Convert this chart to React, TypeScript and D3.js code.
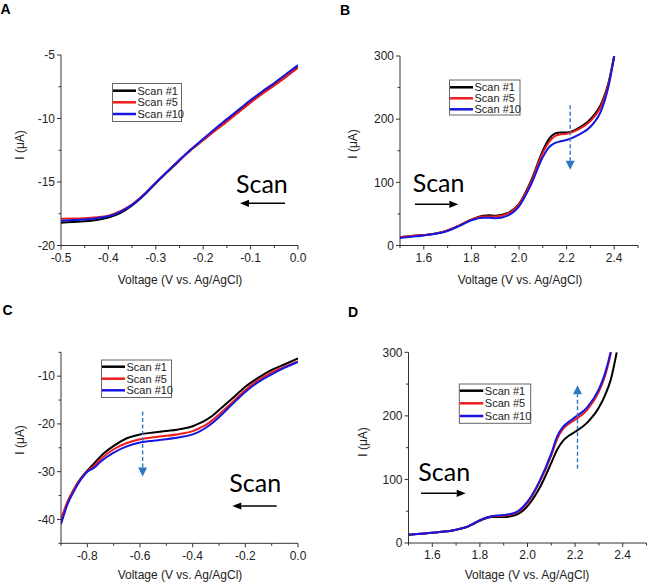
import React from "react";
import * as d3 from "d3";

const seriesNames = ["Scan #1", "Scan #5", "Scan #10"];
const seriesColors = ["#000000", "#ee1c1c", "#1616e0"];

// Panel A
const aVoltage = [-0.5, -0.475, -0.45, -0.425, -0.4, -0.375, -0.35, -0.325, -0.3, -0.275, -0.25, -0.225, -0.2, -0.175, -0.15, -0.125, -0.1, -0.075, -0.05, -0.025, 0];
const aScan1 = [-18.2, -18.15, -18.1, -18.0, -17.8, -17.45, -16.85, -16.05, -15.1, -14.2, -13.3, -12.45, -11.7, -10.95, -10.2, -9.45, -8.7, -8.0, -7.35, -6.7, -5.95];
const aScan5 = [-17.9, -17.88, -17.85, -17.78, -17.65, -17.3, -16.75, -15.98, -15.05, -14.15, -13.3, -12.45, -11.7, -10.95, -10.25, -9.5, -8.75, -8.05, -7.4, -6.7, -6.0];
const aScan10 = [-18.05, -18.0, -17.95, -17.85, -17.7, -17.35, -16.8, -16.0, -15.05, -14.15, -13.25, -12.4, -11.6, -10.8, -10.05, -9.3, -8.55, -7.85, -7.2, -6.5, -5.8];
const aXTicks = [-0.5, -0.4, -0.3, -0.2, -0.1, 0.0];
const aYTicks = [-5, -10, -15, -20];

// Panel B
const bVoltage = [1.5, 1.55, 1.6, 1.65, 1.7, 1.75, 1.8, 1.85, 1.875, 1.9, 1.95, 2.0, 2.05, 2.1, 2.125, 2.15, 2.175, 2.2, 2.25, 2.3, 2.35, 2.375, 2.4];
const bScan1 = [13, 15, 16.5, 19, 24, 32, 41, 47, 48, 47, 51, 66, 102, 150, 168, 177, 179, 179, 186, 200, 228, 256, 300];
const bScan5 = [13, 15, 16.5, 19, 24, 32, 41, 46, 46, 46, 50, 65, 100, 147, 163, 173, 176, 177, 184, 197, 225, 254, 300];
const bScan10 = [12, 14, 16, 18.5, 23, 31, 40, 44, 44, 43, 47, 62, 96, 140, 155, 162, 165, 167, 175, 188, 218, 250, 300];
const bXTicks = [1.6, 1.8, 2.0, 2.2, 2.4];
const bYTicks = [0, 100, 200, 300];

// Panel C
const cVoltage = [-0.9, -0.875, -0.85, -0.825, -0.8, -0.775, -0.75, -0.7, -0.65, -0.6, -0.55, -0.5, -0.45, -0.4, -0.375, -0.35, -0.325, -0.3, -0.25, -0.2, -0.15, -0.1, -0.05, 0];
const cScan1 = [-40.5, -36.4, -33.6, -31.4, -29.8, -28.3, -26.8, -24.6, -23.0, -22.2, -21.8, -21.5, -21.1, -20.5, -19.9, -19.2, -18.3, -17.1, -14.7, -12.2, -10.3, -8.7, -7.5, -6.3];
const cScan5 = [-40.0, -36.2, -33.6, -31.5, -29.9, -28.8, -27.4, -25.3, -24.0, -23.2, -22.8, -22.5, -22.1, -21.5, -20.9, -20.2, -19.2, -18.0, -15.5, -12.9, -10.8, -9.2, -8.0, -6.9];
const cScan10 = [-41.0, -36.8, -34.0, -31.7, -30.0, -29.2, -27.9, -26.0, -24.7, -23.9, -23.5, -23.2, -22.8, -22.2, -21.6, -20.8, -19.8, -18.6, -15.9, -13.3, -11.2, -9.6, -8.2, -7.0];
const cXTicks = [-0.8, -0.6, -0.4, -0.2, 0.0];
const cYTicks = [-10, -20, -30, -40];

// Panel D
const dVoltage = [1.5, 1.55, 1.6, 1.65, 1.7, 1.75, 1.8, 1.85, 1.9, 1.95, 2.0, 2.05, 2.1, 2.125, 2.15, 2.175, 2.2, 2.25, 2.3, 2.325, 2.35, 2.375];
const dScan1 = [13, 14.5, 16, 18, 21, 26, 35, 41, 41, 44, 58, 86, 126, 147, 161, 169, 175, 189, 213, 232, 257, 300];
const dScan5 = [13, 14.5, 16, 18, 21, 26, 36, 42, 43, 47, 63, 95, 138, 164, 180, 188, 194, 209, 238, 262, 298, 345];
const dScan10 = [13, 14.5, 16, 18, 21, 26, 36, 42, 44, 48, 65, 97, 141, 168, 183, 191, 198, 213, 242, 266, 302, 355];
const dXTicks = [1.6, 1.8, 2.0, 2.2, 2.4];
const dYTicks = [0, 100, 200, 300];

const xTitle = "Voltage (V vs. Ag/AgCl)";
const yTitle = "I (\u03bcA)";
const scanLabel = "Scan";

type PanelSpec = {
  letter: string;
  letterPos: [number, number];
  xDomain: [number, number];
  xRange: [number, number];
  yDomain: [number, number];
  yRange: [number, number];
  xTicks: number[];
  yTicks: number[];
  xMinorStep: number;
  yMinorStep: number;
  voltage: number[];
  series: number[][];
  legend: { x: number; y: number; w: number; h: number; rowY: number[]; lineEnd: number };
  scan: { tx: number; ty: number; ax0: number; ax1: number; ay: number };
  dashed: { v: number; i0: number; i1: number } | null;
  yLabelPos: [number, number];
  xLabelPos: [number, number];
};

const minusFix = (s: string) => s.replace("\u2212", "-");
const f1 = (v: number) => minusFix(d3.format(".1f")(v));
const f0 = (v: number) => minusFix(d3.format("d")(v));

const panels: PanelSpec[] = [
  {
    letter: "A", letterPos: [0.5, 13.5],
    xDomain: [-0.5, 0], xRange: [61, 298], yDomain: [-20, -5], yRange: [245.5, 55],
    xTicks: aXTicks, yTicks: aYTicks, xMinorStep: 0.05, yMinorStep: 2.5,
    voltage: aVoltage, series: [aScan1, aScan5, aScan10],
    legend: { x: 112.5, y: 83.5, w: 69, h: 38, rowY: [90.7, 102.3, 114], lineEnd: 136 },
    scan: { tx: 236, ty: 192.5, ax0: 285, ax1: 240, ay: 203.3 },
    dashed: null,
    yLabelPos: [20, 145], xLabelPos: [180, 284],
  },
  {
    letter: "B", letterPos: [340, 15],
    xDomain: [1.5, 2.5], xRange: [400, 638], yDomain: [0, 300], yRange: [245.5, 56],
    xTicks: bXTicks, yTicks: bYTicks, xMinorStep: 0.1, yMinorStep: 50,
    voltage: bVoltage, series: [bScan1, bScan5, bScan10],
    legend: { x: 449.5, y: 80, w: 70.5, h: 35, rowY: [87.3, 98.3, 109.3], lineEnd: 473 },
    scan: { tx: 412.7, ty: 191.7, ax0: 415, ax1: 458.3, ay: 204.3 },
    dashed: { v: 2.215, i0: 222, i1: 120 },
    yLabelPos: [353, 144], xLabelPos: [520, 284],
  },
  {
    letter: "C", letterPos: [2.5, 315],
    xDomain: [-0.9, 0], xRange: [61, 298], yDomain: [-45, -5], yRange: [543.3, 352.3],
    xTicks: cXTicks, yTicks: cYTicks, xMinorStep: 0.1, yMinorStep: 5,
    voltage: cVoltage, series: [cScan1, cScan5, cScan10],
    legend: { x: 101.5, y: 360, w: 70, h: 37.5, rowY: [366.7, 378.7, 390.3], lineEnd: 125 },
    scan: { tx: 229.3, ty: 491.7, ax0: 276.7, ax1: 232.3, ay: 506 },
    dashed: { v: -0.59, i0: -17.4, i1: -31 },
    yLabelPos: [20, 440], xLabelPos: [180, 579],
  },
  {
    letter: "D", letterPos: [348, 316.5],
    xDomain: [1.5, 2.5], xRange: [408.5, 646.5], yDomain: [0, 300], yRange: [543, 352.3],
    xTicks: dXTicks, yTicks: dYTicks, xMinorStep: 0.1, yMinorStep: 50,
    voltage: dVoltage, series: [dScan1, dScan5, dScan10],
    legend: { x: 459.3, y: 384, w: 71.4, h: 39.3, rowY: [390.7, 403.3, 416], lineEnd: 483.3 },
    scan: { tx: 418.3, ty: 481, ax0: 421, ax1: 465.7, ay: 493.3 },
    dashed: { v: 2.21, i0: 117, i1: 248 },
    yLabelPos: [363, 442], xLabelPos: [527, 579],
  },
];

const tickFont = "Liberation Sans, Arial, sans-serif";
const dashColor = "#2e78c0";

function Panel({ p }: { p: PanelSpec }) {
  const x = d3.scaleLinear().domain(p.xDomain).range(p.xRange);
  const y = d3.scaleLinear().domain(p.yDomain).range(p.yRange);
  const line = d3
    .line<[number, number]>()
    .x((d) => x(d[0]))
    .y((d) => y(d[1]))
    .curve(d3.curveMonotoneX);
  const [x0, x1] = p.xRange;
  const [yb, yt] = p.yRange;
  const clipId = `clip-${p.letter}`;
  const eps = 1e-6;
  const isMajor = (v: number, ticks: number[]) => ticks.some((t) => Math.abs(t - v) < eps);
  const xMinor = d3
    .range(p.xDomain[0], p.xDomain[1] + eps, p.xMinorStep)
    .filter((v) => !isMajor(v, p.xTicks));
  const yMinor = d3
    .range(p.yDomain[0], p.yDomain[1] + eps, p.yMinorStep)
    .filter((v) => !isMajor(v, p.yTicks));

  const axisColor = "#333";
  const s = p.scan;
  const dir = Math.sign(s.ax1 - s.ax0);
  const headL = 9;
  const headW = 3.6;

  let dashedEl = null;
  if (p.dashed) {
    const dv = p.dashed;
    const dx = x(dv.v);
    const ys = y(dv.i0);
    const ye = y(dv.i1);
    const ddir = Math.sign(ye - ys);
    const hl = 9;
    const hw = 4.5;
    dashedEl = (
      <g>
        <line x1={dx} x2={dx} y1={ys} y2={ye - ddir * hl} stroke={dashColor} strokeWidth={1.4} strokeDasharray="4,2.5" />
        <path d={`M${dx},${ye} L${dx - hw},${ye - ddir * hl} L${dx + hw},${ye - ddir * hl} Z`} fill={dashColor} />
      </g>
    );
  }

  return (
    <g>
      <defs>
        <clipPath id={clipId}>
          <rect x={x0} y={yt} width={x1 - x0} height={yb - yt} />
        </clipPath>
      </defs>
      <text x={p.letterPos[0]} y={p.letterPos[1]} fontFamily={tickFont} fontWeight="bold" fontSize={14} fill="#000">
        {p.letter}
      </text>
      <g clipPath={`url(#${clipId})`}>
        {p.series.map((vals, k) => (
          <path
            key={k}
            d={line(p.voltage.map((v, i) => [v, vals[i]] as [number, number])) || ""}
            fill="none"
            stroke={seriesColors[k]}
            strokeWidth={2}
            strokeLinejoin="round"
          />
        ))}
      </g>
      <line x1={x0} x2={x1} y1={yb} y2={yb} stroke={axisColor} strokeWidth={1} />
      <line x1={x0} x2={x0} y1={yt} y2={yb} stroke={axisColor} strokeWidth={1} />
      {p.xTicks.map((t) => (
        <g key={`xt${t}`}>
          <line x1={x(t)} x2={x(t)} y1={yb} y2={yb + 4} stroke={axisColor} />
          <text x={x(t)} y={yb + 16.3} textAnchor="middle" fontFamily={tickFont} fontSize={12} fill="#222">
            {f1(t)}
          </text>
        </g>
      ))}
      {xMinor.map((t) => (
        <line key={`xm${t}`} x1={x(t)} x2={x(t)} y1={yb} y2={yb + 2.5} stroke={axisColor} />
      ))}
      {p.yTicks.map((t) => (
        <g key={`yt${t}`}>
          <line x1={x0} x2={x0 - 4} y1={y(t)} y2={y(t)} stroke={axisColor} />
          <text x={x0 - 6} y={y(t)} dy="0.36em" textAnchor="end" fontFamily={tickFont} fontSize={12} fill="#222">
            {f0(t)}
          </text>
        </g>
      ))}
      {yMinor.map((t) => (
        <line key={`ym${t}`} x1={x0} x2={x0 - 2.5} y1={y(t)} y2={y(t)} stroke={axisColor} />
      ))}
      <text x={p.xLabelPos[0]} y={p.xLabelPos[1]} textAnchor="middle" fontFamily={tickFont} fontSize={12} fill="#222">
        {xTitle}
      </text>
      <text
        transform={`translate(${p.yLabelPos[0]},${p.yLabelPos[1]}) rotate(-90)`}
        textAnchor="middle"
        dy="0.35em"
        fontFamily={tickFont}
        fontSize={12}
        fill="#222"
      >
        {yTitle}
      </text>
      <rect x={p.legend.x} y={p.legend.y} width={p.legend.w} height={p.legend.h} fill="#fff" stroke="#666" strokeWidth={1} />
      {seriesNames.map((n, k) => (
        <g key={n}>
          <line
            x1={p.legend.x + 0.5}
            x2={p.legend.lineEnd}
            y1={p.legend.rowY[k]}
            y2={p.legend.rowY[k]}
            stroke={seriesColors[k]}
            strokeWidth={2.5}
          />
          <text x={p.legend.lineEnd + 1.5} y={p.legend.rowY[k]} dy="0.36em" fontFamily={tickFont} fontSize={11} fill="#222">
            {n}
          </text>
        </g>
      ))}
      <text x={s.tx} y={s.ty} fontFamily="Lato, 'Open Sans', sans-serif" fontSize={25} fill="#000">
        {scanLabel}
      </text>
      <line x1={s.ax0} x2={s.ax1 - dir * headL} y1={s.ay} y2={s.ay} stroke="#000" strokeWidth={1.6} />
      <path
        d={`M${s.ax1},${s.ay} L${s.ax1 - dir * headL},${s.ay - headW} L${s.ax1 - dir * headL},${s.ay + headW} Z`}
        fill="#000"
      />
      {dashedEl}
    </g>
  );
}

export default function App() {
  return (
    <svg
      width={647}
      height={583}
      viewBox="0 0 647 583"
      style={{ position: "absolute", left: 0, top: 0, background: "#fff" }}
    >
      <rect x={0} y={0} width={647} height={583} fill="#fff" />
      {panels.map((p) => (
        <Panel key={p.letter} p={p} />
      ))}
    </svg>
  );
}
